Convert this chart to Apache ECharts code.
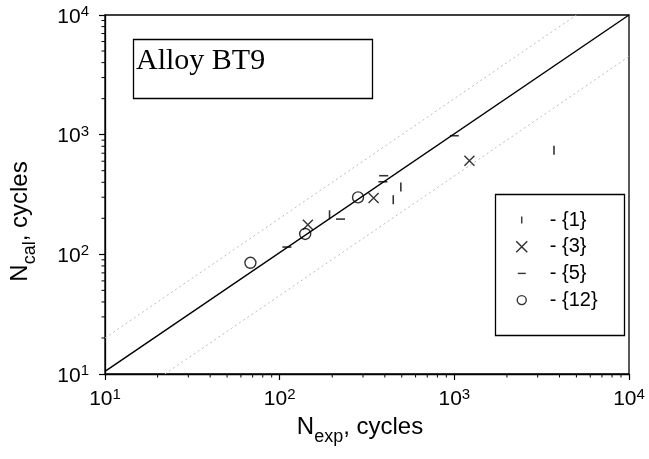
<!DOCTYPE html>
<html><head><meta charset="utf-8">
<script src="https://cdn.jsdelivr.net/npm/echarts@6/dist/echarts.min.js"></script>
<style>html,body{margin:0;padding:0;background:#fff}#c{width:649px;height:459px}</style>
</head><body><div id="c"></div>
<script>
// ---- data ----
const majorTicks = [10, 100, 1000, 10000];
const minorMultipliers = [2, 3, 4, 5, 6, 7, 8, 9];

const set1X = [193, 447, 494, 3720];
const set1Y = [214, 286, 365, 740];
const set3X = [145, 345, 1220];
const set3Y = [177, 295, 605];
const set5X = [110, 223, 390, 394, 1000];
const set5Y = [115, 197, 404, 454, 980];
const set12X = [68, 140, 281];
const set12Y = [85, 148, 299];

const fitLineX = [10, 10000];
const fitLineY = [10.5, 10000];
const upperBandX = [10, 5000];
const upperBandY = [20, 10000];
const lowerBandX = [22, 10000];
const lowerBandY = [10, 4500];

const seriesNames = ['- {1}', '- {3}', '- {5}', '- {12}'];
const titleText = 'Alloy BT9';
const xName = ['N', 'exp', ', cycles'];
const yName = ['N', 'cal', ', cycles'];

// ---- helpers ----
const zip = (a, b) => a.map((v, i) => [v, b[i]]);
const minorTickValues = [];
majorTicks.slice(0, -1).forEach(d => minorMultipliers.forEach(m => minorTickValues.push(d * m)));

const SANS = 'Liberation Sans, Arial, sans-serif';
const tickRich = {
  b: { fontSize: 21, lineHeight: 25, fontFamily: SANS, color: '#000' },
  s: { fontSize: 15, lineHeight: 15, verticalAlign: 'top', fontFamily: SANS, color: '#000' }
};
const nameRich = {
  n: { fontSize: 24, lineHeight: 38, fontFamily: SANS, color: '#000' },
  s: { fontSize: 18, lineHeight: 18, verticalAlign: 'bottom', fontFamily: SANS, color: '#000' }
};
const supLabel = v => '{b|10}{s|' + Math.round(Math.log10(v)) + '}';

const axisCommon = {
  type: 'log', logBase: 10, min: majorTicks[0], max: majorTicks[majorTicks.length - 1],
  axisLine: { show: true, lineStyle: { color: '#000', width: 1.3 } },
  axisTick: { show: true, inside: false, length: 6, lineStyle: { color: '#000', width: 1.2 } },
  splitLine: { show: false },
  minorTick: { show: false },
  nameLocation: 'middle'
};

// legend icons: bounding box 46x18, glyph centred at x=23
const iconBar = 'path://M0,0M46,18M22.3,5.5L23.7,5.5L23.7,12.5L22.3,12.5Z';
const iconCross = 'path://M0,0M46,18M17.5,3.5L28.5,14.5M28.5,3.5L17.5,14.5';
const iconDash = 'path://M0,0M46,18M19,8.3L27,8.3L27,9.7L19,9.7Z';
const iconCircle = 'path://M0,0M46,18M27.5,9A4.5,4.5,0,1,1,18.5,9A4.5,4.5,0,1,1,27.5,9Z';

const chart = echarts.init(document.getElementById('c'), null, { renderer: 'canvas' });
chart.setOption({
  animation: false,
  backgroundColor: '#fff',
  title: {
    text: titleText, left: 133, top: 39,
    borderColor: '#000', borderWidth: 1.3,
    padding: [7, 108, 23, 3],
    textStyle: { fontFamily: 'Liberation Serif, Times New Roman, serif', fontSize: 30, lineHeight: 30, fontWeight: 'normal', color: '#000' }
  },
  grid: { left: 99, top: 15, width: 530, height: 359, show: true, borderColor: '#000', borderWidth: 1.3, backgroundColor: 'transparent' },
  xAxis: Object.assign({}, axisCommon, {
    axisLabel: { margin: 13, formatter: supLabel, rich: tickRich, color: '#000' },
    name: '{n|' + xName[0] + '}{s|' + xName[1] + '}{n|' + xName[2] + '}',
    nameGap: 33,
    nameTextStyle: { rich: nameRich, padding: [0, 14, 0, 0] }
  }),
  yAxis: Object.assign({}, axisCommon, {
    axisLabel: { margin: 16, formatter: supLabel, rich: tickRich, color: '#000', padding: [4, 0, 0, 0] },
    name: '{n|' + yName[0] + '}{s|' + yName[1] + '}{n|' + yName[2] + '}',
    nameGap: 66,
    nameTextStyle: { rich: nameRich, padding: [0, 54, 0, 0] }
  }),
  legend: {
    orient: 'vertical', left: 498, top: 210, padding: 0,
    itemWidth: 46, itemHeight: 20, itemGap: 6.7,
    selectedMode: false,
    textStyle: { fontFamily: SANS, fontSize: 20, lineHeight: 20, color: '#000' },
    data: [
      { name: seriesNames[0], icon: iconBar, itemStyle: { color: '#000', borderWidth: 0 } },
      { name: seriesNames[1], icon: iconCross, itemStyle: { color: 'rgba(0,0,0,0)', borderColor: '#000', borderWidth: 1.5 } },
      { name: seriesNames[2], icon: iconDash, itemStyle: { color: '#000', borderWidth: 0 } },
      { name: seriesNames[3], icon: iconCircle, itemStyle: { color: 'rgba(0,0,0,0)', borderColor: '#000', borderWidth: 1.4 } }
    ]
  },
  graphic: [{
    type: 'rect', left: 493, top: 192, z: 5,
    shape: { width: 129, height: 141 },
    style: { fill: 'none', stroke: '#000', lineWidth: 1.3 }
  }],
  series: [
    { type: 'line', data: zip(upperBandX, upperBandY), symbol: 'none', silent: true,
      lineStyle: { color: '#bdbdbd', width: 1, type: [2, 3] } },
    { type: 'line', data: zip(lowerBandX, lowerBandY), symbol: 'none', silent: true,
      lineStyle: { color: '#bdbdbd', width: 1, type: [2, 3] } },
    { type: 'line', data: zip(fitLineX, fitLineY), symbol: 'none', silent: true,
      lineStyle: { color: '#000', width: 1.5 } },
    { name: seriesNames[0], type: 'scatter', data: zip(set1X, set1Y), symbol: 'rect', symbolSize: [1.6, 9],
      itemStyle: { color: '#000' } },
    { name: seriesNames[1], type: 'scatter', data: zip(set3X, set3Y), symbol: 'path://M0,0L10,10M10,0L0,10', symbolSize: 10,
      itemStyle: { color: 'rgba(0,0,0,0)', borderColor: '#000', borderWidth: 1.4 } },
    { name: seriesNames[2], type: 'scatter', data: zip(set5X, set5Y), symbol: 'rect', symbolSize: [9, 1.6],
      itemStyle: { color: '#000' } },
    { name: seriesNames[3], type: 'scatter', data: zip(set12X, set12Y), symbol: 'circle', symbolSize: 11,
      itemStyle: { color: 'rgba(0,0,0,0)', borderColor: '#000', borderWidth: 1.4 } },
    { type: 'custom', silent: true, clip: false,
      data: minorTickValues.map(v => [v, majorTicks[0]]),
      renderItem: (params, api) => {
        const p = api.coord([api.value(0), api.value(1)]);
        return { type: 'line', shape: { x1: p[0], y1: p[1], x2: p[0], y2: p[1] + 3.5 }, style: { stroke: '#000', lineWidth: 1 } };
      } },
    { type: 'custom', silent: true, clip: false,
      data: minorTickValues.map(v => [majorTicks[0], v]),
      renderItem: (params, api) => {
        const p = api.coord([api.value(0), api.value(1)]);
        return { type: 'line', shape: { x1: p[0] - 3.5, y1: p[1], x2: p[0], y2: p[1] }, style: { stroke: '#000', lineWidth: 1 } };
      } }
  ]
});
</script></body></html>
